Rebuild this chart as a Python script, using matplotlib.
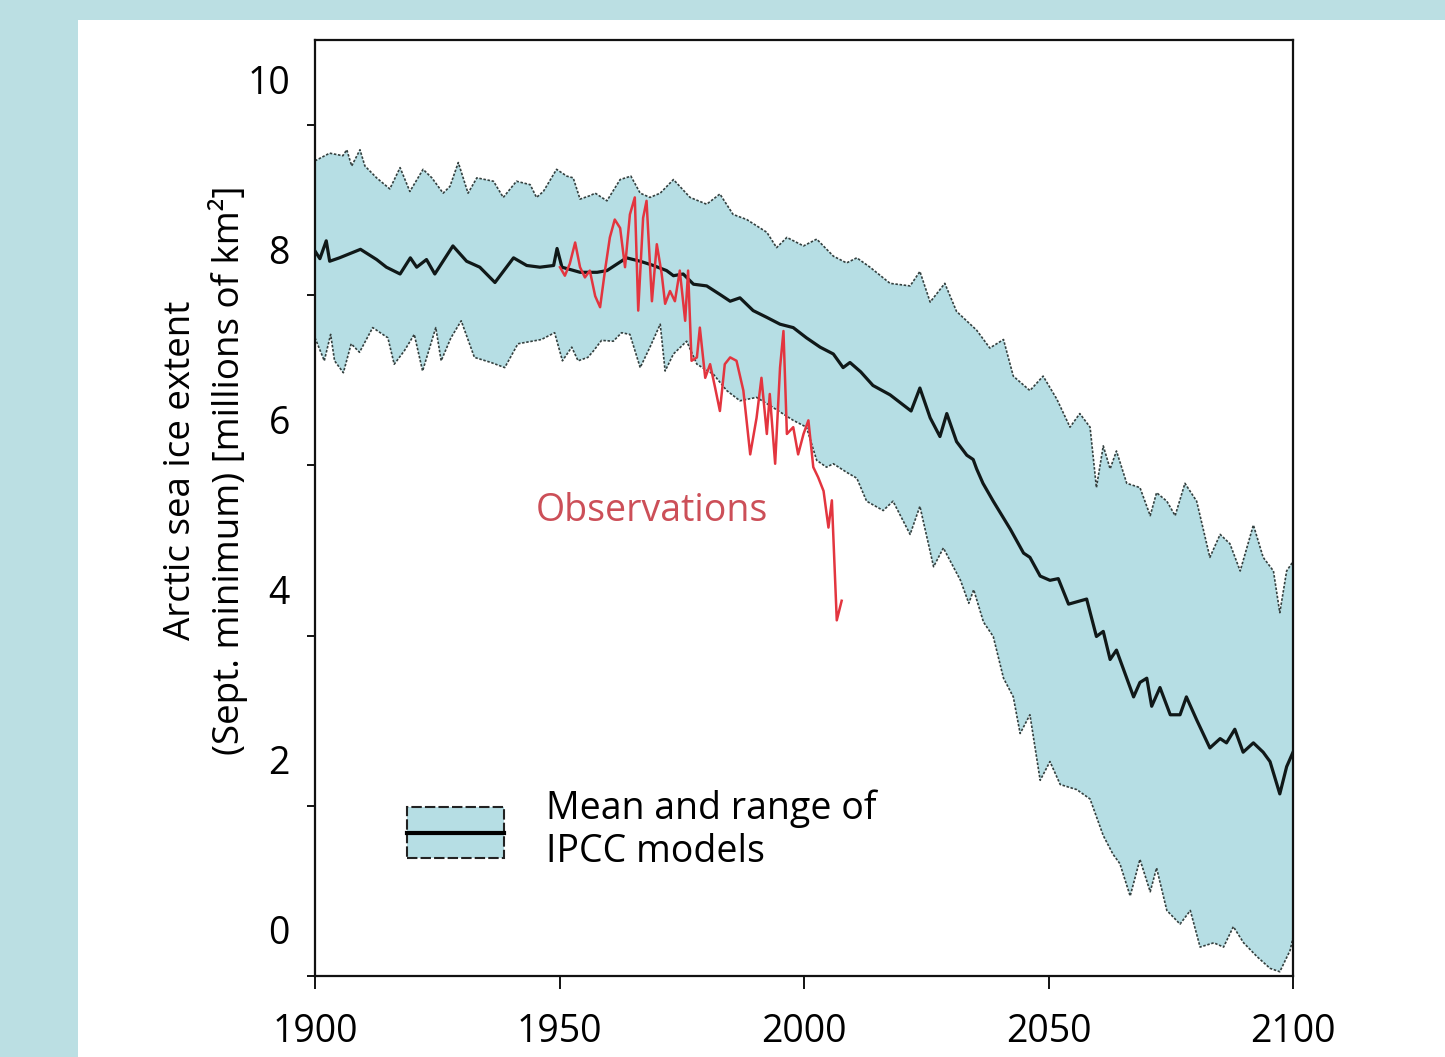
import numpy as np
import matplotlib
matplotlib.use("Agg")
import matplotlib.pyplot as plt
from matplotlib.patches import Patch, Rectangle
from matplotlib.lines import Line2D
from matplotlib.legend_handler import HandlerTuple, HandlerBase
import matplotlib.transforms as mtransforms

plt.rcParams['font.family'] = ['Open Sans', 'DejaVu Sans']

# ---------------- data ----------------
upper_years = [1900, 1903, 1905.7, 1906.5, 1907.5, 1909.2, 1910.2, 1912.6, 1915.3, 1917.4,
               1919.4, 1922.1, 1923.9, 1926.2, 1927.6, 1929.3, 1931.3, 1933.1, 1936.5, 1938.5,
               1941.2, 1944, 1945.3, 1946.7, 1949.4, 1951.5, 1952.8, 1954.2, 1956.2, 1957.3,
               1959.7, 1962.4, 1964.6, 1966.5, 1968.5, 1970.6, 1973.3, 1976.7, 1980.1, 1982.8,
               1985.5, 1988.3, 1992.4, 1994.4, 1996.5, 1999.9, 2002.6, 2006, 2008.7, 2010.8,
               2013.5, 2017.6, 2021.7, 2023.7, 2025.8, 2028.8, 2031.2, 2035.3, 2038, 2040.8,
               2042.8, 2046.2, 2048.9, 2051.7, 2054.4, 2056.4, 2058.5, 2059.8, 2061.2, 2062.6,
               2063.9, 2066, 2068.7, 2070.8, 2072.1, 2074.2, 2075.9, 2077.9, 2080.3, 2083,
               2085.1, 2087.1, 2089.2, 2091.9, 2093.9, 2096, 2097.3, 2098.7, 2100]
upper_vals = [9.58, 9.67, 9.64, 9.71, 9.52, 9.71, 9.52, 9.38, 9.25, 9.50,
              9.22, 9.48, 9.38, 9.20, 9.28, 9.56, 9.20, 9.38, 9.34, 9.15,
              9.34, 9.30, 9.15, 9.22, 9.48, 9.40, 9.38, 9.13, 9.17, 9.20,
              9.11, 9.36, 9.40, 9.20, 9.15, 9.20, 9.36, 9.15, 9.07, 9.19,
              8.95, 8.89, 8.74, 8.56, 8.68, 8.58, 8.66, 8.46, 8.38, 8.44,
              8.33, 8.14, 8.11, 8.28, 7.92, 8.14, 7.81, 7.59, 7.38, 7.48,
              7.05, 6.88, 7.05, 6.78, 6.45, 6.61, 6.45, 5.74, 6.23, 5.96,
              6.17, 5.79, 5.74, 5.41, 5.68, 5.58, 5.41, 5.79, 5.58, 4.92,
              5.19, 5.08, 4.76, 5.30, 4.92, 4.76, 4.27, 4.76, 4.87]

mean_years = [1900, 1901, 1902.3, 1903, 1905, 1909.3, 1912.6, 1914.6, 1917.4, 1919.5,
              1920.8, 1922.8, 1924.5, 1928.2, 1931, 1933.7, 1936.8, 1940.6, 1943.3, 1946,
              1948.8, 1949.5, 1950.5, 1954.2, 1957.7, 1959.7, 1963.7, 1966.5, 1969.2, 1971.9,
              1973.3, 1975.3, 1977.4, 1980.1, 1982.8, 1984.9, 1986.9, 1989.6, 1992.4, 1995.1,
              1997.8, 2000.5, 2003.3, 2006, 2008, 2009.4, 2011.6, 2014.1, 2017.6, 2021.9,
              2023.7, 2025.8, 2027.8, 2029.2, 2031.2, 2033.3, 2034.6, 2035.3, 2036.6, 2038.7,
              2042.2, 2044.9, 2046.2, 2048.3, 2050.3, 2052, 2054.1, 2057.8, 2059.8, 2061.2,
              2062.6, 2063.9, 2065.3, 2067.4, 2068.7, 2070.1, 2071.1, 2072.8, 2074.9, 2076.9,
              2078.2, 2080.3, 2083, 2085.1, 2086.4, 2088.1, 2089.8, 2091.9, 2093.9, 2095.3,
              2097.3, 2098.7, 2100]
mean_vals = [8.52, 8.43, 8.64, 8.40, 8.44, 8.54, 8.42, 8.33, 8.25, 8.44,
             8.33, 8.42, 8.25, 8.58, 8.40, 8.33, 8.15, 8.44, 8.35, 8.33,
             8.35, 8.55, 8.33, 8.27, 8.27, 8.29, 8.44, 8.40, 8.35, 8.29,
             8.23, 8.25, 8.13, 8.11, 8.01, 7.93, 7.97, 7.82, 7.74, 7.66,
             7.62, 7.50, 7.39, 7.31, 7.15, 7.21, 7.10, 6.94, 6.83, 6.64,
             6.91, 6.56, 6.34, 6.61, 6.28, 6.12, 6.07, 5.96, 5.79, 5.58,
             5.25, 4.97, 4.92, 4.70, 4.65, 4.67, 4.37, 4.43, 3.99, 4.05,
             3.72, 3.83, 3.61, 3.28, 3.45, 3.50, 3.17, 3.39, 3.07, 3.07,
             3.28, 3.01, 2.68, 2.79, 2.74, 2.90, 2.63, 2.74, 2.63, 2.52,
             2.14, 2.46, 2.63]

lower_years = [1900, 1901.9, 1903.2, 1904, 1905.8, 1907.4, 1909.1, 1911.8, 1914.9, 1916.2,
               1918.3, 1920.3, 1922, 1924.7, 1925.8, 1927.8, 1929.9, 1932.6, 1936, 1938.8,
               1941.5, 1946.3, 1949, 1950.6, 1952.5, 1953.8, 1955.8, 1957, 1958.6, 1961,
               1962.7, 1964.4, 1966.5, 1968.5, 1970.6, 1971.6, 1973.3, 1976, 1978.1, 1981.5,
               1984.2, 1986.9, 1990.3, 1993.7, 1997.8, 2000.5, 2002.6, 2004.6, 2006, 2008.7,
               2010.8, 2012.8, 2016.2, 2018.2, 2021.7, 2023.7, 2026.5, 2028.5, 2032, 2033.7,
               2034.7, 2036.7, 2038.7, 2040.8, 2042.8, 2044.2, 2046.2, 2048.3, 2050.3, 2052.4,
               2055.8, 2058.5, 2061.2, 2063.2, 2064.6, 2066.7, 2068.7, 2070.8, 2072.1, 2074.2,
               2076.9, 2079, 2081, 2083.8, 2085.8, 2087.8, 2089.9, 2092.6, 2095.3, 2097.3,
               2099.4, 2100]
lower_vals = [7.50, 7.23, 7.54, 7.23, 7.09, 7.43, 7.33, 7.62, 7.50, 7.19,
              7.35, 7.54, 7.11, 7.62, 7.23, 7.50, 7.70, 7.27, 7.21, 7.15,
              7.43, 7.48, 7.56, 7.23, 7.39, 7.23, 7.27, 7.35, 7.47, 7.46,
              7.56, 7.54, 7.15, 7.39, 7.66, 7.11, 7.31, 7.46, 7.19, 7.07,
              6.88, 6.76, 6.80, 6.68, 6.53, 6.45, 6.06, 5.98, 6.02, 5.92,
              5.85, 5.58, 5.47, 5.58, 5.19, 5.52, 4.81, 5.03, 4.65, 4.38,
              4.54, 4.16, 3.99, 3.50, 3.28, 2.85, 3.07, 2.30, 2.52, 2.25,
              2.19, 2.08, 1.65, 1.43, 1.32, 0.94, 1.37, 0.99, 1.27, 0.77,
              0.61, 0.77, 0.34, 0.39, 0.34, 0.58, 0.39, 0.23, 0.09, 0.05,
              0.30, 0.45]

obs_years = [1950.1, 1951.1, 1952.1, 1953.2, 1954.2, 1955.2, 1956.2, 1957.3, 1958.3, 1959.3,
             1960.3, 1961.3, 1962.4, 1963.4, 1964.4, 1965.4, 1966.1, 1967.1, 1967.8, 1968.9,
             1969.9, 1970.9, 1971.6, 1972.6, 1973.6, 1974.6, 1975.7, 1976.3, 1977.0, 1978.1,
             1978.7, 1979.8, 1980.8, 1981.8, 1982.8, 1983.8, 1984.9, 1986.2, 1987.6, 1989.0,
             1990.3, 1991.3, 1992.4, 1993.0, 1994.1, 1995.1, 1995.8, 1996.5, 1997.8, 1998.8,
             1999.9, 2000.9, 2001.9, 2002.9, 2004.0, 2005.0, 2005.7, 2006.7, 2007.7]
obs_vals = [8.33, 8.23, 8.37, 8.62, 8.33, 8.21, 8.29, 7.99, 7.86, 8.29,
            8.68, 8.89, 8.79, 8.33, 8.95, 9.15, 7.82, 8.91, 9.11, 7.93,
            8.60, 8.25, 7.90, 8.05, 7.93, 8.29, 7.70, 8.29, 7.23, 7.27,
            7.62, 7.03, 7.19, 6.92, 6.64, 7.19, 7.27, 7.23, 6.88, 6.13,
            6.56, 7.03, 6.37, 6.84, 6.02, 7.15, 7.58, 6.37, 6.45, 6.13,
            6.37, 6.53, 5.98, 5.86, 5.70, 5.27, 5.59, 4.18, 4.41]

x_ticks = [1900, 1950, 2000, 2050, 2100]
y_ticks = [0, 2, 4, 6, 8, 10]

# ---------------- styling ----------------
BG = '#bbdfe3'
BAND = '#b6dee4'
EDGE = '#34403f'
OBS = '#e3353f'
OBS_TXT = '#cc4f58'


class CenteredLineHandler(HandlerBase):
    """Horizontal line through the vertical centre of the legend key box."""
    def create_artists(self, legend, orig_handle, xdescent, ydescent, width, height,
                       fontsize, trans):
        y = -ydescent + height / 2
        line = Line2D([-xdescent, -xdescent + width], [y, y],
                      color=orig_handle.get_color(), lw=orig_handle.get_linewidth())
        line.set_transform(trans)
        return [line]


W, H = 1445, 1057
fig = plt.figure(figsize=(W / 100, H / 100), dpi=100, facecolor=BG)
fig.patches.append(Rectangle((78 / W, 0), 1 - 78 / W, 1 - 20 / H, transform=fig.transFigure,
                             facecolor='white', edgecolor='none', zorder=-10))

ax = fig.add_axes([315 / W, 1 - 976 / H, (1293 - 315) / W, (976 - 40) / H])
ax.set_zorder(1)
ax.set_facecolor('white')

band_x = np.concatenate([upper_years, lower_years[::-1]])
band_y = np.concatenate([upper_vals, lower_vals[::-1]])
ax.fill(band_x, band_y, color=BAND, lw=0, zorder=1)
ax.plot(upper_years, upper_vals, color=EDGE, lw=1.2, ls=(0, (1.5, 1)), zorder=2)
ax.plot(lower_years, lower_vals, color=EDGE, lw=1.2, ls=(0, (1.5, 1)), zorder=2)
ax.plot(mean_years, mean_vals, color='#101818', lw=2.3, zorder=3)
ax.plot(obs_years, obs_vals, color=OBS, lw=1.8, zorder=4)

ax.text(1968.9, 5.47, 'Observations', color=OBS_TXT, fontsize=27, ha='center', va='center')

ax.set_xlim(1900, 2100)
ax.set_ylim(0, 11)
ax.set_xticks(x_ticks)
ax.set_yticks(y_ticks)
ax.tick_params(axis='x', direction='out', length=9, width=1.3, pad=18, labelsize=27)
ax.tick_params(axis='y', direction='out', length=6, width=1.3, pad=12, labelsize=27)
for s in ax.spines.values():
    s.set_linewidth(1.6)
    s.set_color('#111')

# y tick labels sit above their tick marks in the original
offset = mtransforms.ScaledTranslation(0, 0.46, fig.dpi_scale_trans)
for t in ax.yaxis.get_major_ticks():
    t.label1.set_transform(t.label1.get_transform() + offset)

ax.set_ylabel('Arctic sea ice extent\n(Sept. minimum) [millions of km²]', fontsize=26.5,
              linespacing=1.3, ha='center')
ax.yaxis.set_label_coords(-0.068, 0.54)

handle = (Patch(facecolor=BAND, edgecolor='#222', linestyle=(0, (5, 1.5)), lw=1.5),
          Line2D([], [], color='black', lw=3))
leg = ax.legend([handle], ['Mean and range of\nIPCC models'],
                handler_map={tuple: HandlerTuple(ndivide=1, pad=0),
                             Line2D: CenteredLineHandler()},
                loc='upper left', bbox_to_anchor=(0.094, 0.199), borderaxespad=0,
                frameon=False, fontsize=27, handlelength=2.6, handleheight=1.72,
                handletextpad=1.1, borderpad=0)
for t in leg.get_texts():
    t.set_linespacing(1.15)

fig.savefig('out.png', dpi=100, facecolor=fig.get_facecolor())
